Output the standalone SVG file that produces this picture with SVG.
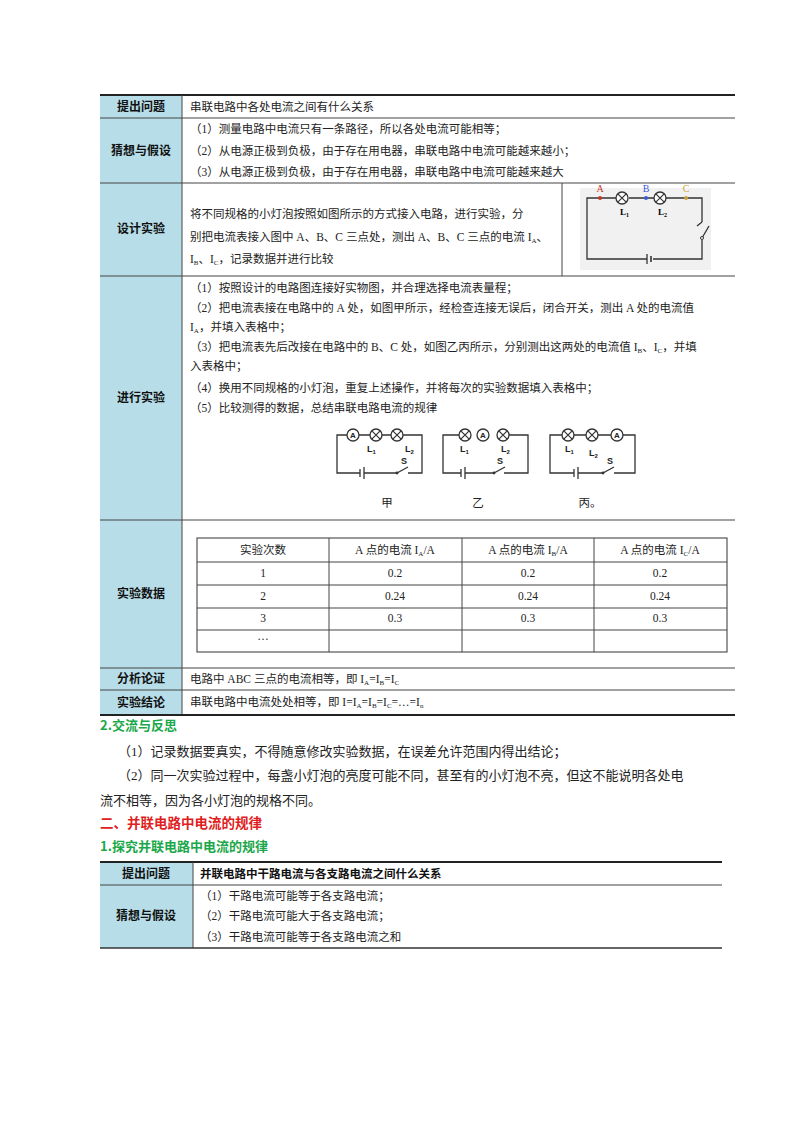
<svg xmlns="http://www.w3.org/2000/svg" xmlns:xlink="http://www.w3.org/1999/xlink" width="800" height="1132" viewBox="0 0 800 1132">
<style>
.t{font-family:"Liberation Serif","Noto Sans CJK SC",serif;font-size:11.5px;fill:#222}
.b{font-size:13px}
.lb{font-family:"Noto Sans CJK SC",sans-serif;font-size:12px;font-weight:bold;fill:#111;text-anchor:middle}
.c{text-anchor:middle}
.hd{fill:#b7dde8}
.ln{stroke:#444;stroke-width:1;fill:none}
.thk{stroke:#222;stroke-width:2}
.w{stroke:#333;stroke-width:1.3;fill:none}
.sub{font-size:7px}
.cl{font-family:"Liberation Sans",sans-serif;font-size:9px;font-weight:bold;fill:#222}
</style>
<defs>
<g id="lamp"><circle r="6" fill="#fff" stroke="#333" stroke-width="1.3"/><path d="M-4.2,-4.2L4.2,4.2M-4.2,4.2L4.2,-4.2" stroke="#333" stroke-width="1.2"/></g>
<g id="amm"><circle r="6" fill="#fff" stroke="#333" stroke-width="1.3"/><text y="3" text-anchor="middle" font-family="Liberation Sans,sans-serif" font-size="8" font-weight="bold" fill="#222">A</text></g>
</defs>
<rect width="800" height="1132" fill="#fff"/>
<g id="table1">
<rect class="hd" x="100" y="95" width="82" height="620"/>
<line class="thk" x1="100" y1="95" x2="735" y2="95"/>
<g class="ln">
<line x1="100" y1="118" x2="735" y2="118"/><line x1="100" y1="183" x2="735" y2="183"/>
<line x1="100" y1="276" x2="735" y2="276"/><line x1="100" y1="520" x2="735" y2="520"/>
<line x1="100" y1="668" x2="735" y2="668"/><line x1="100" y1="690" x2="735" y2="690"/>
<line x1="182" y1="95" x2="182" y2="715"/><line x1="562" y1="183" x2="562" y2="276"/>
</g>
<line class="thk" x1="100" y1="715" x2="735" y2="715"/>
<text class="lb" x="141" y="111">提出问题</text>
<text class="lb" x="141" y="155">猜想与假设</text>
<text class="lb" x="141" y="233">设计实验</text>
<text class="lb" x="141" y="402">进行实验</text>
<text class="lb" x="141" y="598">实验数据</text>
<text class="lb" x="141" y="683">分析论证</text>
<text class="lb" x="141" y="707">实验结论</text>
<text class="t" x="190" y="111">串联电路中各处电流之间有什么关系</text>
<text class="t" x="190" y="133">（1）测量电路中电流只有一条路径，所以各处电流可能相等；</text>
<text class="t" x="190" y="155">（2）从电源正极到负极，由于存在用电器，串联电路中电流可能越来越小；</text>
<text class="t" x="190" y="176">（3）从电源正极到负极，由于存在用电器，串联电路中电流可能越来越大</text>
<text class="t" x="190" y="218">将不同规格的小灯泡按照如图所示的方式接入电路，进行实验，分</text>
<text class="t" x="190" y="241">别把电流表接入图中 A、B、C 三点处，测出 A、B、C 三点的电流 I<tspan class="sub" dy="2">A</tspan><tspan dy="-2">、</tspan></text>
<text class="t" x="190" y="263">I<tspan class="sub" dy="2">B</tspan><tspan dy="-2">、I</tspan><tspan class="sub" dy="2">C</tspan><tspan dy="-2">，记录数据并进行比较</tspan></text>
<text class="t" x="190" y="292">（1）按照设计的电路图连接好实物图，并合理选择电流表量程；</text>
<text class="t" x="190" y="312">（2）把电流表接在电路中的 A 处，如图甲所示，经检查连接无误后，闭合开关，测出 A 处的电流值</text>
<text class="t" x="190" y="331">I<tspan class="sub" dy="2">A</tspan><tspan dy="-2">，并填入表格中；</tspan></text>
<text class="t" x="190" y="351">（3）把电流表先后改接在电路中的 B、C 处，如图乙丙所示，分别测出这两处的电流值 I<tspan class="sub" dy="2">B</tspan><tspan dy="-2">、I</tspan><tspan class="sub" dy="2">C</tspan><tspan dy="-2">，并填</tspan></text>
<text class="t" x="190" y="370">入表格中；</text>
<text class="t" x="190" y="392">（4）换用不同规格的小灯泡，重复上述操作，并将每次的实验数据填入表格中；</text>
<text class="t" x="190" y="412">（5）比较测得的数据，总结串联电路电流的规律</text>
<text class="t" x="190" y="683">电路中 ABC 三点的电流相等，即 I<tspan class="sub" dy="2">A</tspan><tspan dy="-2">=I</tspan><tspan class="sub" dy="2">B</tspan><tspan dy="-2">=I</tspan><tspan class="sub" dy="2">C</tspan></text>
<text class="t" x="190" y="706">串联电路中电流处处相等，即 I=I<tspan class="sub" dy="2">A</tspan><tspan dy="-2">=I</tspan><tspan class="sub" dy="2">B</tspan><tspan dy="-2">=I</tspan><tspan class="sub" dy="2">C</tspan><tspan dy="-2">=…=I</tspan><tspan class="sub" dy="2">n</tspan></text>
</g>
<g id="designCircuit">
<rect x="580" y="188" width="131" height="82" fill="#f1f1f1"/>
<path class="w" d="M614,198H587V259H647M653,259H702V240M697,226L702,222M702,222V198H666"/>
<path class="w" d="M654,198H629M616,198H614"/>
<line x1="647" y1="254" x2="647" y2="264" stroke="#333" stroke-width="1.3"/>
<line x1="651" y1="256" x2="651" y2="262" stroke="#333" stroke-width="1.6"/>
<path class="w" d="M702,238L709,226"/><circle cx="702" cy="238" r="1.5" fill="#fff" stroke="#333"/>
<use href="#lamp" x="622" y="198"/><use href="#lamp" x="660" y="198"/>
<circle cx="600" cy="198" r="2" fill="#c0392b"/><circle cx="646" cy="198" r="2" fill="#3a5bd9"/><circle cx="686" cy="198" r="2" fill="#c9a13b"/>
<text x="600" y="192" font-family="Liberation Serif,serif" font-size="10" fill="#c0392b" text-anchor="middle">A</text>
<text x="646" y="192" font-family="Liberation Serif,serif" font-size="10" fill="#3a5bd9" text-anchor="middle">B</text>
<text x="686" y="192" font-family="Liberation Serif,serif" font-size="10" fill="#d4a43b" text-anchor="middle">C</text>
<text x="620" y="215" font-family="Liberation Serif,serif" font-size="9" font-weight="bold">L<tspan font-size="6" dy="2">1</tspan></text>
<text x="658" y="215" font-family="Liberation Serif,serif" font-size="9" font-weight="bold">L<tspan font-size="6" dy="2">2</tspan></text>
</g>
<g id="circuitJia">
<path class="w" d="M347,435H337V473H360M364,473H397M408,473H422V435H403"/>
<line x1="360" y1="469" x2="360" y2="477" stroke="#333" stroke-width="1.3"/><line x1="364" y1="467" x2="364" y2="479" stroke="#333" stroke-width="1.3"/>
<path class="w" d="M397,473L408,467"/><circle cx="397" cy="473" r="1.4" fill="#333"/>
<path class="w" d="M359,435H370M382,435H391"/>
<use href="#amm" x="353" y="435"/><use href="#lamp" x="376" y="435"/><use href="#lamp" x="397" y="435"/>
<text class="cl" x="367" y="452">L<tspan font-size="6" dy="2">1</tspan></text><text class="cl" x="405" y="452">L<tspan font-size="6" dy="2">2</tspan></text><text class="cl" x="401" y="464">S</text>
<text class="t c" x="387" y="507">甲</text>
</g>
<g id="circuitYi">
<path class="w" d="M459,435H443V473H461M465,473H494M504,473H528V435H509"/>
<line x1="461" y1="469" x2="461" y2="477" stroke="#333" stroke-width="1.3"/><line x1="465" y1="467" x2="465" y2="479" stroke="#333" stroke-width="1.3"/>
<path class="w" d="M494,473L505,467"/><circle cx="494" cy="473" r="1.4" fill="#333"/>
<use href="#lamp" x="465" y="435"/><use href="#amm" x="483" y="435"/><use href="#lamp" x="503" y="435"/>
<text class="cl" x="460" y="452">L<tspan font-size="6" dy="2">1</tspan></text><text class="cl" x="501" y="452">L<tspan font-size="6" dy="2">2</tspan></text><text class="cl" x="497" y="464">S</text>
<text class="t c" x="478" y="507">乙</text>
</g>
<g id="circuitBing">
<path class="w" d="M562,435H550V473H574M578,473H603M614,473H635V435H623"/>
<line x1="574" y1="469" x2="574" y2="477" stroke="#333" stroke-width="1.3"/><line x1="578" y1="467" x2="578" y2="479" stroke="#333" stroke-width="1.3"/>
<path class="w" d="M603,473L614,467"/><circle cx="603" cy="473" r="1.4" fill="#333"/>
<path class="w" d="M574,435H586M598,435H611"/>
<use href="#lamp" x="568" y="435"/><use href="#lamp" x="592" y="435"/><use href="#amm" x="617" y="435"/>
<text class="cl" x="565" y="452">L<tspan font-size="6" dy="2">1</tspan></text><text class="cl" x="589" y="456">L<tspan font-size="6" dy="2">2</tspan></text><text class="cl" x="607" y="464">S</text>
<text class="t c" x="590" y="507">丙。</text>
</g>
<g id="dataTable">
<rect x="197" y="538" width="530" height="114" fill="none" stroke="#333" stroke-width="1"/>
<g class="ln"><line x1="329" y1="538" x2="329" y2="652"/><line x1="462" y1="538" x2="462" y2="652"/><line x1="594" y1="538" x2="594" y2="652"/>
<line x1="197" y1="562" x2="727" y2="562"/><line x1="197" y1="585" x2="727" y2="585"/><line x1="197" y1="608" x2="727" y2="608"/><line x1="197" y1="630" x2="727" y2="630"/></g>
<text class="t c" x="263" y="554">实验次数</text>
<text class="t c" x="395" y="554">A 点的电流 I<tspan class="sub" dy="2">A</tspan><tspan dy="-2">/A</tspan></text>
<text class="t c" x="528" y="554">A 点的电流 I<tspan class="sub" dy="2">B</tspan><tspan dy="-2">/A</tspan></text>
<text class="t c" x="660" y="554">A 点的电流 I<tspan class="sub" dy="2">C</tspan><tspan dy="-2">/A</tspan></text>
<text class="t c" x="263" y="577">1</text><text class="t c" x="395" y="577">0.2</text><text class="t c" x="528" y="577">0.2</text><text class="t c" x="660" y="577">0.2</text>
<text class="t c" x="263" y="600">2</text><text class="t c" x="395" y="600">0.24</text><text class="t c" x="528" y="600">0.24</text><text class="t c" x="660" y="600">0.24</text>
<text class="t c" x="263" y="622">3</text><text class="t c" x="395" y="622">0.3</text><text class="t c" x="528" y="622">0.3</text><text class="t c" x="660" y="622">0.3</text>
<text class="t c" x="263" y="640">…</text>
</g>
<g id="body">
<text x="100" y="730" font-family="Noto Sans CJK SC,sans-serif" font-size="13" font-weight="bold" fill="#1aa84a">2.交流与反思</text>
<text class="t b" x="118" y="756">（1）记录数据要真实，不得随意修改实验数据，在误差允许范围内得出结论；</text>
<text class="t b" x="118" y="780">（2）同一次实验过程中，每盏小灯泡的亮度可能不同，甚至有的小灯泡不亮，但这不能说明各处电</text>
<text class="t b" x="100" y="805">流不相等，因为各小灯泡的规格不同。</text>
<text x="100" y="828" font-family="Noto Sans CJK SC,sans-serif" font-size="13.5" font-weight="bold" fill="#e02020">二、并联电路中电流的规律</text>
<text x="100" y="851" font-family="Noto Sans CJK SC,sans-serif" font-size="13" font-weight="bold" fill="#1aa84a">1.探究并联电路中电流的规律</text>
</g>
<g id="table2">
<rect class="hd" x="100" y="862" width="93" height="86"/>
<line class="thk" x1="100" y1="862" x2="722" y2="862"/>
<g class="ln"><line x1="100" y1="885" x2="722" y2="885"/><line x1="193" y1="862" x2="193" y2="948"/></g>
<line x1="100" y1="948" x2="722" y2="948" stroke="#333" stroke-width="1.5"/>
<text class="lb" x="146" y="878">提出问题</text>
<text class="lb" x="146" y="920">猜想与假设</text>
<text x="200" y="878" font-family="Noto Sans CJK SC,sans-serif" font-size="11.5" font-weight="bold" fill="#111">并联电路中干路电流与各支路电流之间什么关系</text>
<text class="t" x="200" y="900">（1）干路电流可能等于各支路电流；</text>
<text class="t" x="200" y="920">（2）干路电流可能大于各支路电流；</text>
<text class="t" x="200" y="941">（3）干路电流可能等于各支路电流之和</text>
</g>
</svg>
